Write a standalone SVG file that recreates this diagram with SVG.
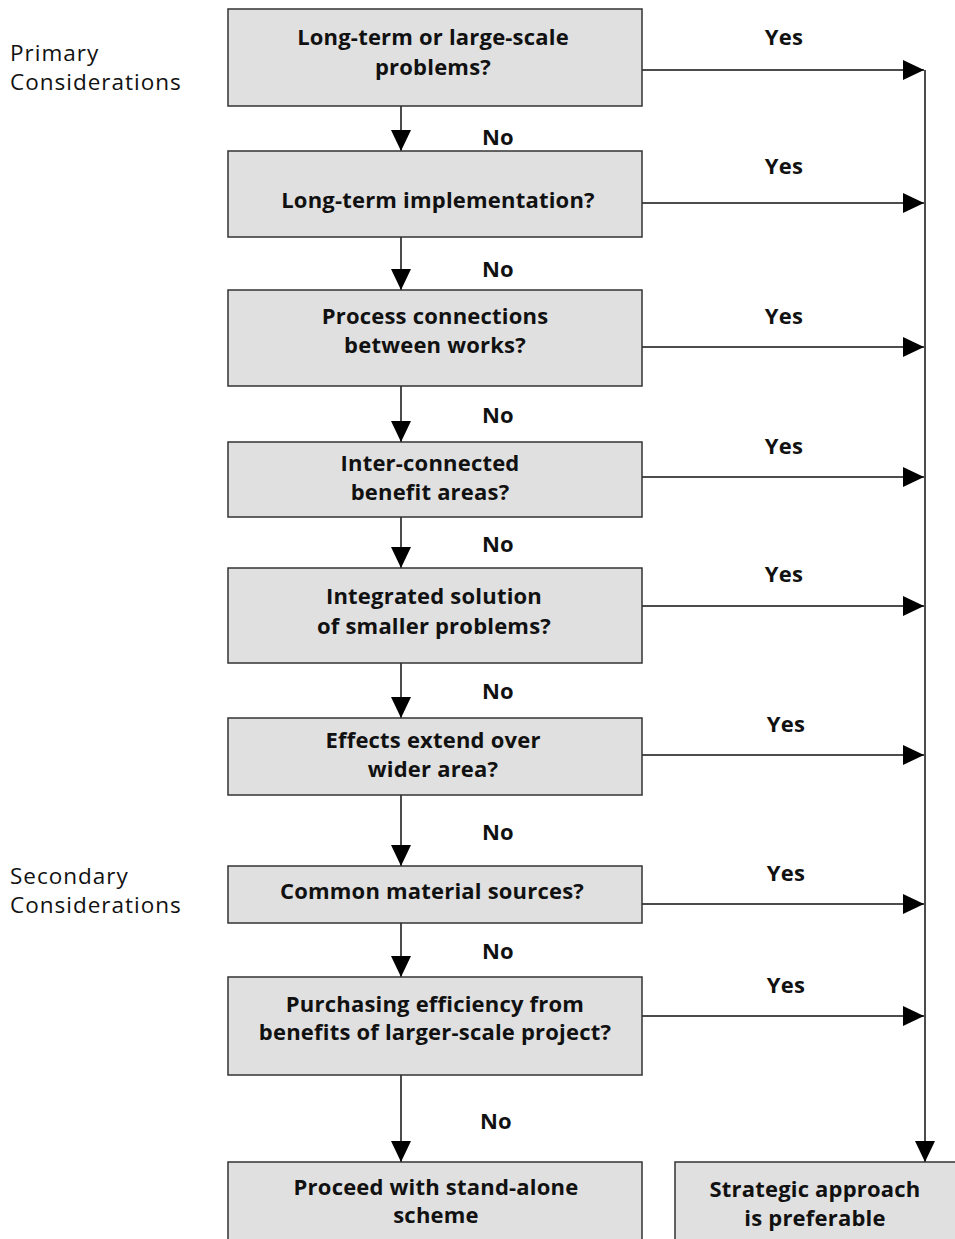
<svg xmlns="http://www.w3.org/2000/svg" width="955" height="1239" viewBox="0 0 955 1239">
<style>
.box{fill:#e0e0e0;stroke:#333;stroke-width:1.5}
.t{font-family:"Open Sans","Liberation Sans",sans-serif;font-weight:700;font-size:22px;fill:#111;text-anchor:middle;letter-spacing:0.2px}
.side{font-family:"Open Sans","Liberation Sans",sans-serif;font-weight:400;font-size:22.5px;fill:#111;letter-spacing:1px}
.c{stroke:#111;stroke-width:1.5;fill:none}
</style>
<defs>
<marker id="ah" markerUnits="userSpaceOnUse" markerWidth="22" markerHeight="22" refX="21" refY="10" orient="auto" viewBox="0 0 22 20">
<path d="M0,0 L21,10 L0,20 Z" fill="#000"/>
</marker>
</defs>
<rect width="955" height="1239" fill="#fff"/>
<text class="side" x="10" y="61">Primary</text>
<text class="side" x="10" y="90">Considerations</text>
<text class="side" x="10" y="884">Secondary</text>
<text class="side" x="10" y="913">Considerations</text>

<g id="connectors">
<line class="c" x1="401" y1="106" x2="401" y2="151" marker-end="url(#ah)"/>
<line class="c" x1="401" y1="237" x2="401" y2="290" marker-end="url(#ah)"/>
<line class="c" x1="401" y1="386" x2="401" y2="442" marker-end="url(#ah)"/>
<line class="c" x1="401" y1="517" x2="401" y2="568" marker-end="url(#ah)"/>
<line class="c" x1="401" y1="663" x2="401" y2="718" marker-end="url(#ah)"/>
<line class="c" x1="401" y1="795" x2="401" y2="866" marker-end="url(#ah)"/>
<line class="c" x1="401" y1="923" x2="401" y2="977" marker-end="url(#ah)"/>
<line class="c" x1="401" y1="1075" x2="401" y2="1162" marker-end="url(#ah)"/>
<line class="c" x1="642" y1="70" x2="924" y2="70" marker-end="url(#ah)"/>
<line class="c" x1="642" y1="203" x2="924" y2="203" marker-end="url(#ah)"/>
<line class="c" x1="642" y1="347" x2="924" y2="347" marker-end="url(#ah)"/>
<line class="c" x1="642" y1="477" x2="924" y2="477" marker-end="url(#ah)"/>
<line class="c" x1="642" y1="606" x2="924" y2="606" marker-end="url(#ah)"/>
<line class="c" x1="642" y1="755" x2="924" y2="755" marker-end="url(#ah)"/>
<line class="c" x1="642" y1="904" x2="924" y2="904" marker-end="url(#ah)"/>
<line class="c" x1="642" y1="1016" x2="924" y2="1016" marker-end="url(#ah)"/>
<line class="c" x1="925" y1="70" x2="925" y2="1162" marker-end="url(#ah)"/>
<g class="t">
<text x="498" y="145">No</text>
<text x="498" y="277">No</text>
<text x="498" y="423">No</text>
<text x="498" y="552">No</text>
<text x="498" y="699">No</text>
<text x="498" y="840">No</text>
<text x="498" y="959">No</text>
<text x="496" y="1129">No</text>
<text x="784" y="45">Yes</text>
<text x="784" y="174">Yes</text>
<text x="784" y="324">Yes</text>
<text x="784" y="454">Yes</text>
<text x="784" y="582">Yes</text>
<text x="786" y="732">Yes</text>
<text x="786" y="881">Yes</text>
<text x="786" y="993">Yes</text>
</g>
</g>

<g id="n1"><rect class="box" x="228" y="9" width="414" height="97"/>
<text class="t" x="433" y="45">Long-term or large-scale</text><text class="t" x="433" y="75">problems?</text></g>
<g id="n2"><rect class="box" x="228" y="151" width="414" height="86"/>
<text class="t" x="438" y="208">Long-term implementation?</text></g>
<g id="n3"><rect class="box" x="228" y="290" width="414" height="96"/>
<text class="t" x="435" y="324">Process connections</text><text class="t" x="435" y="353">between works?</text></g>
<g id="n4"><rect class="box" x="228" y="442" width="414" height="75"/>
<text class="t" x="430" y="471">Inter-connected</text><text class="t" x="430" y="500">benefit areas?</text></g>
<g id="n5"><rect class="box" x="228" y="568" width="414" height="95"/>
<text class="t" x="434" y="604">Integrated solution</text><text class="t" x="434" y="634">of smaller problems?</text></g>
<g id="n6"><rect class="box" x="228" y="718" width="414" height="77"/>
<text class="t" x="433" y="748">Effects extend over</text><text class="t" x="433" y="777">wider area?</text></g>
<g id="n7"><rect class="box" x="228" y="866" width="414" height="57"/>
<text class="t" x="432" y="899">Common material sources?</text></g>
<g id="n8"><rect class="box" x="228" y="977" width="414" height="98"/>
<text class="t" x="435" y="1012">Purchasing efficiency from</text><text class="t" x="435" y="1040">benefits of larger-scale project?</text></g>
<g id="n9"><rect class="box" x="228" y="1162" width="414" height="90"/>
<text class="t" x="436" y="1195">Proceed with stand-alone</text><text class="t" x="436" y="1223">scheme</text></g>
<g id="n10"><rect class="box" x="675" y="1162" width="300" height="90"/>
<text class="t" x="815" y="1197">Strategic approach</text><text class="t" x="815" y="1226">is preferable</text></g>
</svg>
